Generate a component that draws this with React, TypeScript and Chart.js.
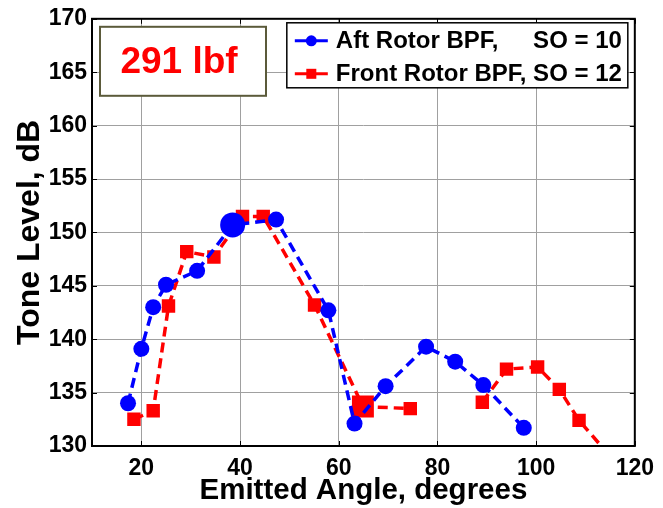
import { useEffect, useRef } from 'react';
import { Chart, registerables } from 'chart.js';

Chart.register(...registerables);

// Emitted angle (degrees) and tone level (dB)
const aftAngle = [17.3, 20.0, 22.4, 25.0, 31.3, 38.5, 47.3, 57.9, 63.2, 69.5, 77.7, 83.6, 89.3, 97.5];
const aftLevel = [134.0, 139.1, 143.0, 145.1, 146.4, 150.7, 151.2, 142.7, 132.1, 135.6, 139.3, 137.9, 135.7, 131.7];

const frontAngle = [18.5, 22.4, 25.5, 29.2, 34.7, 40.5, 44.7, 55.1, 64.9, 74.5, 80.0, 89.1, 94.0, 100.3, 104.7, 108.7, 116.0];
const frontLevel = [132.5, 133.3, 143.1, 148.2, 147.7, 151.5, 151.5, 143.2, 133.7, 133.5, null, 134.1, 137.2, 137.4, 135.3, 132.4, 128.5];

const xTicks = [20, 40, 60, 80, 100, 120];
const yTicks = [130, 135, 140, 145, 150, 155, 160, 165, 170];

const aftLabel = 'Aft Rotor BPF,';
const aftSO = 'SO = 10';
const frontLabel = 'Front Rotor BPF,';
const frontSO = 'SO = 12';
const loadLabel = '291 lbf';

const AFT_HIGHLIGHT = 5;
const FRONT_HIGHLIGHT = 8;

const FONT = '"Liberation Sans", Arial, sans-serif';
const BLUE = '#0000ff';
const RED = '#ff0000';

const toPoints = (xs: number[], ys: (number | null)[]) => xs.map((x, i) => ({ x, y: ys[i] }));

const framePlugin = {
  id: 'frame',
  afterDraw(chart: any) {
    const { ctx, chartArea: a, scales } = chart;
    ctx.save();
    ctx.strokeStyle = '#000';
    ctx.lineWidth = 1;
    const seg = (x1: number, y1: number, x2: number, y2: number) => {
      ctx.beginPath();
      ctx.moveTo(x1, y1);
      ctx.lineTo(x2, y2);
      ctx.stroke();
    };
    for (const v of xTicks) {
      const px = Math.round(scales.x.getPixelForValue(v)) + 0.5;
      seg(px, a.bottom, px, a.bottom - 5);
      seg(px, a.top, px, a.top + 5);
    }
    for (const v of yTicks) {
      const py = Math.round(scales.y.getPixelForValue(v)) + 0.5;
      seg(a.left, py, a.left + 5, py);
      seg(a.right, py, a.right - 5, py);
    }
    ctx.lineWidth = 2;
    ctx.strokeRect(a.left, a.top, a.right - a.left, a.bottom - a.top);

    // load annotation box
    const bx = a.left + 8, by = a.top + 8, bw = 166, bh = 69;
    ctx.fillStyle = '#fff';
    ctx.fillRect(bx, by, bw, bh);
    ctx.strokeStyle = '#5b5a3a';
    ctx.lineWidth = 2;
    ctx.strokeRect(bx, by, bw, bh);
    ctx.fillStyle = RED;
    ctx.font = `bold 37px ${FONT}`;
    ctx.textAlign = 'center';
    ctx.textBaseline = 'middle';
    ctx.fillText(loadLabel, bx + bw / 2 - 4, by + bh / 2 + 1);

    // legend
    const lw = 341, lh = 65;
    const lx = a.right - 7 - lw, ly = a.top + 4;
    ctx.fillStyle = '#fff';
    ctx.fillRect(lx, ly, lw, lh);
    ctx.strokeStyle = '#000';
    ctx.lineWidth = 1.5;
    ctx.strokeRect(lx, ly, lw, lh);
    ctx.font = `bold 24px ${FONT}`;
    ctx.textAlign = 'left';
    ctx.textBaseline = 'middle';
    const textX = lx + 49;
    const soX = textX + ctx.measureText(frontLabel + ' ').width;
    const rows = [
      { color: BLUE, style: 'circle', label: aftLabel, so: aftSO, y: ly + 18 },
      { color: RED, style: 'rect', label: frontLabel, so: frontSO, y: ly + 51 },
    ];
    for (const r of rows) {
      ctx.strokeStyle = r.color;
      ctx.lineWidth = 3;
      seg(lx + 8, r.y, lx + 41, r.y);
      ctx.fillStyle = r.color;
      if (r.style === 'circle') {
        ctx.beginPath();
        ctx.arc(lx + 24.5, r.y, 5.5, 0, Math.PI * 2);
        ctx.fill();
      } else {
        ctx.fillRect(lx + 19.5, r.y - 5, 10, 10);
      }
      ctx.fillStyle = '#000';
      ctx.fillText(r.label, textX, r.y + 1);
      ctx.fillText(r.so, soX, r.y + 1);
    }
    ctx.restore();
  },
};

export default function App() {
  const ref = useRef<HTMLCanvasElement | null>(null);

  useEffect(() => {
    if (!ref.current) return;
    const chart = new Chart(ref.current, {
      type: 'line',
      data: {
        datasets: [
          {
            label: `${aftLabel} ${aftSO}`,
            data: toPoints(aftAngle, aftLevel),
            borderColor: BLUE,
            backgroundColor: BLUE,
            borderWidth: 3.5,
            borderDash: [10, 6],
            pointStyle: 'circle',
            pointRadius: (c: any) => (c.dataIndex === AFT_HIGHLIGHT ? 12.5 : 8),
            pointBorderWidth: 0,
            pointBackgroundColor: BLUE,
            tension: 0,
          },
          {
            label: `${frontLabel} ${frontSO}`,
            data: toPoints(frontAngle, frontLevel),
            borderColor: RED,
            backgroundColor: RED,
            borderWidth: 3.5,
            borderDash: [10, 6],
            pointStyle: 'rect',
            pointRadius: (c: any) => (c.dataIndex === FRONT_HIGHLIGHT ? 15.5 : 9.5),
            pointBorderWidth: 0,
            pointBackgroundColor: RED,
            tension: 0,
            spanGaps: false,
          },
        ],
      } as any,
      options: {
        responsive: false,
        animation: false,
        devicePixelRatio: 1,
        layout: { padding: { left: 0, top: 18, right: 21, bottom: 0 } },
        plugins: { legend: { display: false }, tooltip: { enabled: false } },
        scales: {
          x: {
            type: 'linear',
            min: 10,
            max: 120,
            afterBuildTicks: (s: any) => {
              s.ticks = xTicks.map((v) => ({ value: v }));
            },
            afterFit: (s: any) => {
              s.height = 62;
            },
            grid: { color: '#a0a0a0', lineWidth: 1, drawTicks: false },
            border: { display: false },
            ticks: {
              color: '#000',
              padding: 9,
              font: { family: FONT, size: 23, weight: 'bold' },
              maxRotation: 0,
            },
            title: {
              display: true,
              text: 'Emitted Angle, degrees',
              color: '#000',
              font: { family: FONT, size: 29.5, weight: 'bold' },
              padding: { top: 0, bottom: -1 },
            },
          },
          y: {
            type: 'linear',
            min: 130,
            max: 170,
            afterBuildTicks: (s: any) => {
              s.ticks = yTicks.map((v) => ({ value: v }));
            },
            afterFit: (s: any) => {
              s.width = 92;
            },
            grid: { color: '#a0a0a0', lineWidth: 1, drawTicks: false },
            border: { display: false },
            ticks: {
              color: '#000',
              padding: 5,
              font: { family: FONT, size: 23, weight: 'bold' },
            },
            title: {
              display: true,
              text: 'Tone Level, dB',
              color: '#000',
              font: { family: FONT, size: 32, weight: 'bold' },
              padding: { top: 11, bottom: 0 },
            },
          },
        },
      } as any,
      plugins: [framePlugin],
    });
    return () => chart.destroy();
  }, []);

  return (
    <div style={{ position: 'fixed', left: 0, top: 0, width: 663, height: 508, background: '#fff' }}>
      <canvas ref={ref} width={663} height={508} style={{ display: 'block' }} />
    </div>
  );
}
